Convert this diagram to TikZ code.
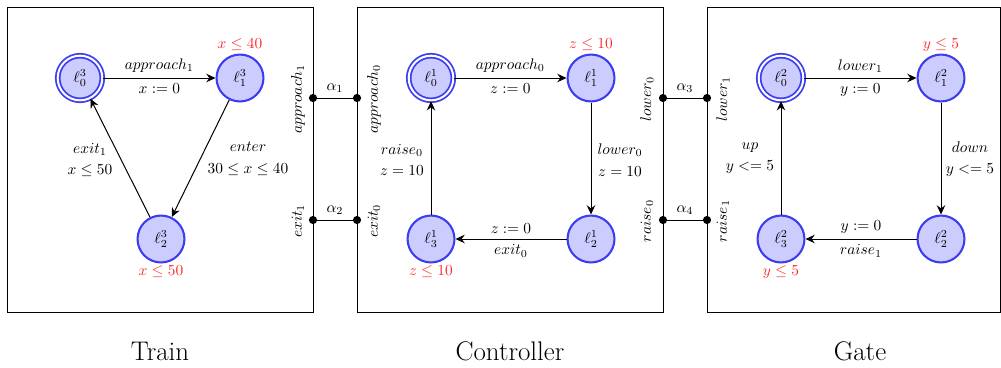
\documentclass[tikz,border=0pt]{standalone}
\usetikzlibrary{arrows.meta}
\definecolor{nodeblue}{RGB}{60,60,240}
\definecolor{nodefill}{RGB}{204,204,255}
\definecolor{invred}{RGB}{250,40,40}
\begin{document}
\begin{tikzpicture}[x=0.65pt,y=-0.65pt,
  loc/.style={circle,draw=nodeblue,fill=nodefill,line width=1.35pt,minimum size=30.5pt,inner sep=0pt},
  initloc/.style={loc,double=white,double distance=1.3pt,line width=1.15pt,minimum size=29pt},
  inv/.style={text=invred},
  edge/.style={draw,line width=0.65pt,-{Stealth[length=6pt,width=5.5pt,inset=2pt]}},
  port/.style={circle,fill=black,inner sep=0pt,minimum size=5.3pt},
  plbl/.style={rotate=90},
  box/.style={draw,line width=0.65pt},
  title/.style={font=\fontsize{17.5}{20}\selectfont}
]
\useasboundingbox (0,0) rectangle (1001,367);
% boxes
\draw[box] (7,7) rectangle (313,312);
\draw[box] (357,7) rectangle (663,312);
\draw[box] (707,7) rectangle (1000,312);

% Train
\node[initloc] (t0) at (80,78) {$\ell^3_0$};
\node[loc] (t1) at (240,78) {$\ell^3_1$};
\node[loc] (t2) at (161,239) {$\ell^3_2$};
\node[inv] (it1) at (240,45) {$x\leq 40$};
\node[inv] (it2) at (161,272) {$x\leq 50$};
\draw[edge] (t0) -- node[above] {$approach_1$} node[below] {$x:=0$} (t1);
\draw[edge] (t1) -- (t2);
\draw[edge] (t2) -- (t0);
\node[align=center] (lt12) at (248,159) {$enter$\\[2pt]$30\leq x\leq 40$};
\node[align=center] (lt20) at (90,160) {$exit_1$\\[2pt]$x\leq 50$};

% Controller
\node[initloc] (c0) at (431,78) {$\ell^1_0$};
\node[loc] (c1) at (591,78) {$\ell^1_1$};
\node[loc] (c2) at (591,239) {$\ell^1_2$};
\node[loc] (c3) at (431,239) {$\ell^1_3$};
\node[inv] (ic1) at (591,45) {$z\leq 10$};
\node[inv] (ic3) at (431,272) {$z\leq 10$};
\draw[edge] (c0) -- node[above] {$approach_0$} node[below] {$z:=0$} (c1);
\draw[edge] (c1) -- (c2);
\draw[edge] (c2) -- node[above] {$z:=0$} node[below] {$exit_0$} (c3);
\draw[edge] (c3) -- (c0);
\node[align=center] (lc12) at (620,160) {$lower_0$\\[2pt]$z=10$};
\node[align=center] (lc30) at (402,160) {$raise_0$\\[2pt]$z=10$};

% Gate
\node[initloc] (g0) at (781,78) {$\ell^2_0$};
\node[loc] (g1) at (941,78) {$\ell^2_1$};
\node[loc] (g2) at (941,239) {$\ell^2_2$};
\node[loc] (g3) at (781,239) {$\ell^2_3$};
\node[inv] (ig1) at (941,45) {$y\leq 5$};
\node[inv] (ig3) at (781,272) {$y\leq 5$};
\draw[edge] (g0) -- node[above] {$lower_1$} node[below] {$y:=0$} (g1);
\draw[edge] (g1) -- (g2);
\draw[edge] (g2) -- node[above] {$y:=0$} node[below] {$raise_1$} (g3);
\draw[edge] (g3) -- (g0);
\node[align=center] (lg12) at (970,159) {$down$\\[2pt]$y<=5$};
\node[align=center] (lg30) at (750,158) {$up$\\[2pt]$y<=5$};

% ports
\node[port] (pa1) at (313,98) {};
\node[port] (pa0) at (357,98) {};
\node[port] (pe1) at (313,220) {};
\node[port] (pe0) at (357,220) {};
\node[port] (pl0) at (663,98) {};
\node[port] (pl1) at (707,98) {};
\node[port] (pr0) at (663,220) {};
\node[port] (pr1) at (707,220) {};
\draw[line width=0.65pt] (pa1) -- node[above] {$\alpha_1$} (pa0);
\draw[line width=0.65pt] (pe1) -- node[above] {$\alpha_2$} (pe0);
\draw[line width=0.65pt] (pl0) -- node[above] {$\alpha_3$} (pl1);
\draw[line width=0.65pt] (pr0) -- node[above] {$\alpha_4$} (pr1);
\node[plbl] (lpa1) at (298,99) {$approach_1$};
\node[plbl] (lpe1) at (298,221) {$exit_1$};
\node[plbl] (lpa0) at (374,99) {$approach_0$};
\node[plbl] (lpe0) at (374,221) {$exit_0$};
\node[plbl] (lpl0) at (647,99) {$lower_0$};
\node[plbl] (lpr0) at (647,221) {$raise_0$};
\node[plbl] (lpl1) at (723,99) {$lower_1$};
\node[plbl] (lpr1) at (723,221) {$raise_1$};

% titles
\node[title] (tt) at (160,351) {Train};
\node[title] (tc) at (510,351) {Controller};
\node[title] (tg) at (860,351) {Gate};
\end{tikzpicture}
\end{document}
